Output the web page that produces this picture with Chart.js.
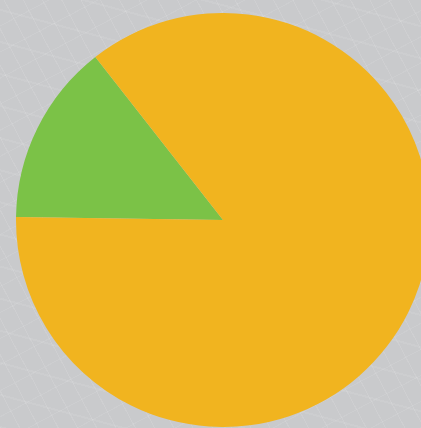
<!DOCTYPE html>
<html>
<head>
<meta charset="utf-8">
<script src="https://cdn.jsdelivr.net/npm/chart.js@4"></script>
<style>
  html, body { margin: 0; padding: 0; width: 421px; height: 428px; overflow: hidden; }
  body {
    background-color: #c9cacc;
    background-image:
      repeating-linear-gradient(62deg, rgba(255,255,255,0.10) 0 1px, transparent 1px 17px),
      repeating-linear-gradient(-28deg, rgba(255,255,255,0.08) 0 1px, transparent 1px 23px),
      repeating-linear-gradient(15deg, rgba(255,255,255,0.07) 0 2px, transparent 2px 31px);
    position: relative;
  }
  #wrap { position: absolute; left: 16px; top: 13px; width: 414px; height: 414px; }
</style>
</head>
<body>
<div id="wrap"><canvas id="pie"></canvas></div>
<script>
  // slices, in drawing order (clockwise from the left side)
  const labels = ['Green', 'Orange'];
  const values = [14.2, 85.8];
  const colors = ['#7bc247', '#f1b41f'];

  const ctx = document.getElementById('pie');
  const myChart = new Chart(ctx, {
    type: 'pie',
    data: {
      labels: labels,
      datasets: [{
        data: values,
        backgroundColor: colors,
        borderWidth: 0
      }]
    },
    options: {
      responsive: true,
      maintainAspectRatio: false,
      animation: false,
      rotation: 270.8,
      layout: { padding: 0 },
      plugins: {
        legend: { display: false },
        tooltip: { enabled: false }
      }
    }
  });
</script>
</body>
</html>
